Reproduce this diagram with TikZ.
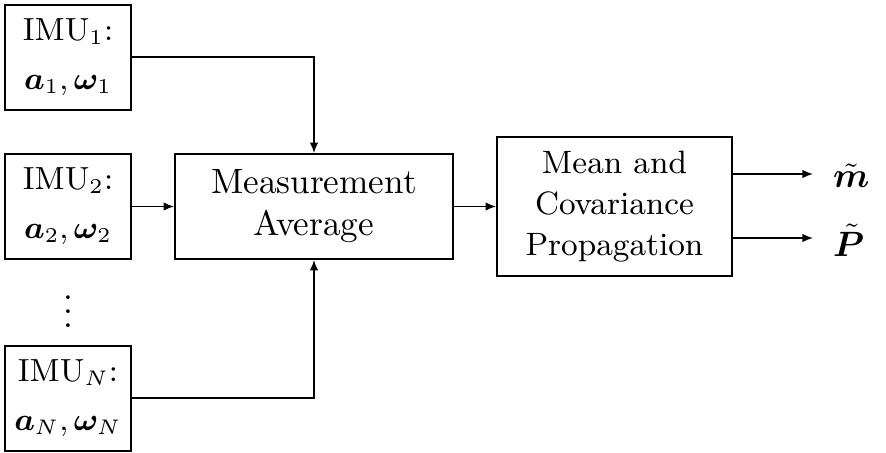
\documentclass[tikz,border=0pt]{standalone}
\usepackage{amsmath,bm}
\usetikzlibrary{arrows.meta,calc}
\begin{document}
\begin{tikzpicture}[x=0.01cm,y=-0.01cm,
  blk/.style={draw,line width=0.45pt,align=center,inner sep=0pt},
  imu/.style={blk,minimum width=1.26cm,minimum height=1.05cm,font=\fontsize{9.1}{11}\selectfont},
  arr/.style={line width=0.45pt,-{Latex[length=3pt,width=2.4pt]}},
  outlbl/.style={inner sep=0pt,outer xsep=5.7pt,anchor=west}]
\useasboundingbox (0,0) rectangle (886,452);
\node[imu] (i1) at (68,57.5) {IMU$_1$:\\[3pt]$\bm{a}_1,\bm{\omega}_1$};
\node[imu] (i2) at (68,206.5) {IMU$_2$:\\[3pt]$\bm{a}_2,\bm{\omega}_2$};
\node[imu] (iN) at (68,398.5) {IMU$_N$:\\[3pt]$\bm{a}_N,\bm{\omega}_N$};
\node (dots) at (68,301) {$\vdots$};
\node[blk,minimum width=2.78cm,minimum height=1.05cm] (avg) at (314,206.5) {Measurement\\Average};
\node[blk,minimum width=2.35cm,minimum height=1.39cm,font=\fontsize{9.2}{11.7}\selectfont] (prop) at (614.5,206.5) {Mean and\\Covariance\\Propagation};
\coordinate (o1) at (732,174);
\coordinate (o2) at (732,238);
\node[outlbl] (m) at (813,176) {$\tilde{\bm{m}}$};
\node[outlbl] (P) at (813,240) {$\tilde{\bm{P}}$};
\draw[arr] (i1.east |- 0,57) -| (avg.north);
\draw[arr] (iN.east |- 0,398) -| (avg.south);
\draw[arr] (i2.east) -- (avg.west);
\draw[arr] (avg.east) -- (prop.west);
\draw[arr] (o1) -- (m.west |- o1);
\draw[arr] (o2) -- (P.west |- o2);
\end{tikzpicture}
\end{document}
